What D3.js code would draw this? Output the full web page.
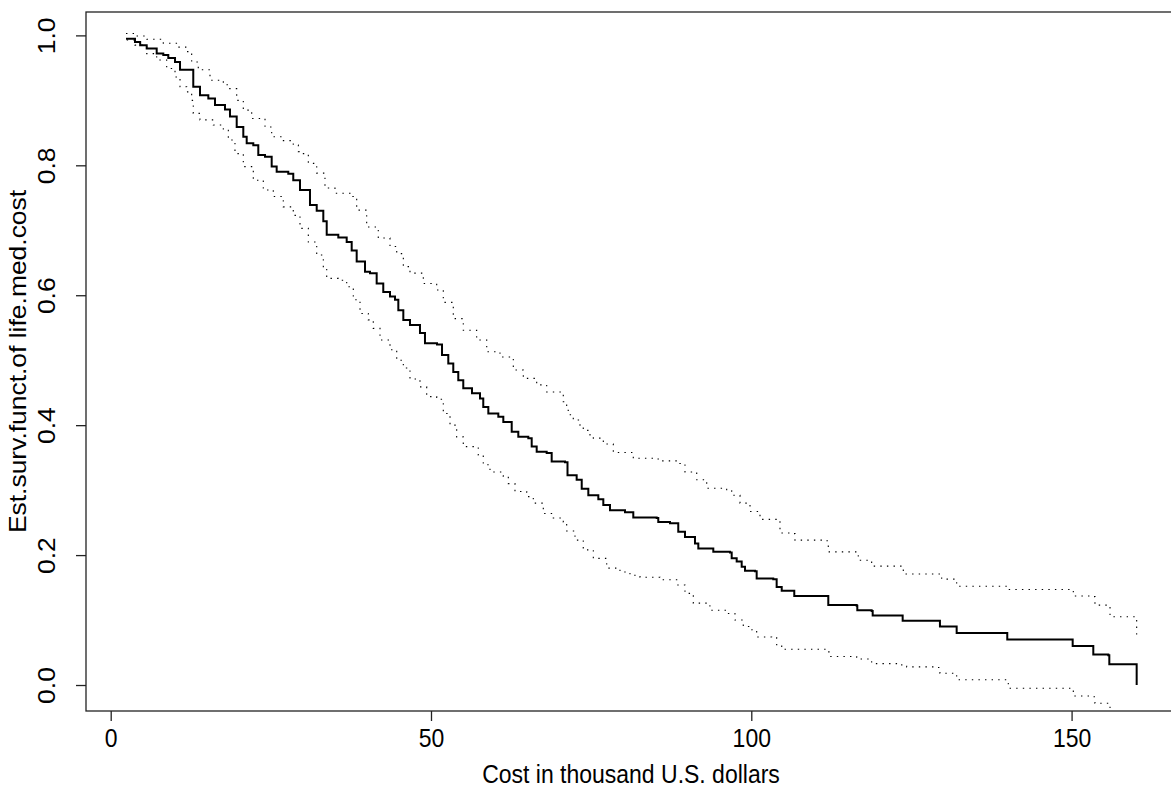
<!DOCTYPE html>
<html>
<head>
<meta charset="utf-8">
<script src="https://cdn.jsdelivr.net/npm/d3@7"></script>
<style>
  body { margin: 0; background: #fff; }
  text { font-family: "Liberation Sans", Arial, Helvetica, sans-serif; fill: #000; }
</style>
</head>
<body>
<div id="chart"></div>
<script>
// estimated survival curve (step points: time, surv after time)
const time = [2.39, 3.79, 4.60, 5.62, 7.18, 8.21, 8.99, 10.04, 10.82, 11.96, 12.89, 13.94, 15.24, 16.28, 17.84, 18.62, 19.67,
  20.70, 21.23, 22.26, 23.04, 24.09, 25.13, 25.91, 27.72, 28.50, 29.55, 31.11, 32.16, 33.19, 33.72, 35.53, 36.84,
  37.62, 38.40, 39.70, 40.48, 41.52, 42.55, 43.60, 44.38, 44.90, 45.68, 46.72, 48.28, 49.06, 50.94, 51.72, 52.70,
  53.48, 54.26, 55.04, 56.40, 57.65, 58.16, 58.95, 60.51, 61.29, 62.60, 63.63, 65.19, 65.72, 66.50, 68.06, 68.84,
  70.92, 71.31, 72.74, 73.53, 74.56, 76.12, 76.90, 77.94, 80.29, 81.58, 85.23, 85.48, 87.31, 88.60, 89.65, 91.21,
  91.73, 94.07, 96.67, 96.94, 97.72, 98.50, 99.02, 100.58, 100.84, 103.43, 103.96, 104.75, 106.56, 106.71, 111.77,
  112.02, 116.45, 116.55, 118.79, 118.95, 123.48, 123.63, 129.35, 129.45, 131.91, 132.06, 139.87, 139.96, 150.02,
  150.17, 153.29, 153.39, 155.73, 155.89, 160.16, 160.16];
const surv = [0.995, 0.990, 0.985, 0.980, 0.972, 0.970, 0.965, 0.959, 0.947, 0.947, 0.921, 0.908, 0.903, 0.893, 0.886, 0.875, 0.859,
  0.844, 0.834, 0.831, 0.816, 0.813, 0.798, 0.790, 0.787, 0.777, 0.762, 0.739, 0.730, 0.714, 0.693, 0.689, 0.682,
  0.669, 0.652, 0.636, 0.634, 0.618, 0.605, 0.598, 0.593, 0.577, 0.562, 0.554, 0.542, 0.526, 0.524, 0.508, 0.495,
  0.482, 0.469, 0.457, 0.449, 0.441, 0.428, 0.418, 0.413, 0.405, 0.390, 0.382, 0.380, 0.367, 0.359, 0.357, 0.344,
  0.343, 0.323, 0.316, 0.302, 0.292, 0.286, 0.277, 0.269, 0.266, 0.258, 0.257, 0.251, 0.249, 0.236, 0.228, 0.218,
  0.210, 0.205, 0.204, 0.195, 0.190, 0.182, 0.176, 0.175, 0.164, 0.163, 0.151, 0.145, 0.145, 0.137, 0.137,
  0.123, 0.122, 0.115, 0.114, 0.107, 0.107, 0.099, 0.099, 0.090, 0.090, 0.080, 0.080, 0.070, 0.070,
  0.060, 0.060, 0.047, 0.046, 0.032, 0.031, 0.0];

// upper confidence band
const upperTime = [2.39, 3.79, 5.62, 8.21, 10.55, 11.86, 12.64, 13.67, 15.50, 17.58, 18.36, 19.67, 20.70, 22.01, 24.09,
  25.13, 26.69, 28.50, 29.29, 29.55, 30.85, 32.16, 33.45, 35.01, 37.35, 38.40, 39.96, 41.77, 43.60, 44.65, 45.68,
  46.72, 48.80, 50.89, 51.92, 53.48, 55.04, 57.13, 58.70, 60.77, 62.85, 64.41, 66.50, 68.06, 70.65, 71.18, 71.43,
  72.21, 73.26, 73.77, 74.82, 75.34, 76.90, 78.46, 81.58, 85.23, 86.01, 88.60, 89.65, 91.48, 93.04, 96.16, 96.94,
  98.24, 99.80, 101.36, 103.70, 104.48, 106.56, 106.82, 111.51, 112.02, 116.45, 116.70, 118.79, 123.48, 123.73,
  129.45, 129.72, 131.80, 132.06, 139.87, 139.96, 149.75, 150.27, 153.14, 153.65, 155.73, 156.00, 160.16, 160.16];
const upperSurv = [1.003, 0.999, 0.994, 0.988, 0.982, 0.975, 0.959, 0.947, 0.931, 0.924, 0.918, 0.900, 0.885, 0.872, 0.859,
  0.844, 0.838, 0.831, 0.821, 0.818, 0.803, 0.788, 0.765, 0.757, 0.752, 0.731, 0.705, 0.688, 0.675, 0.664, 0.644,
  0.634, 0.618, 0.608, 0.589, 0.564, 0.546, 0.531, 0.513, 0.505, 0.485, 0.472, 0.462, 0.451, 0.436, 0.423, 0.416,
  0.408, 0.400, 0.392, 0.385, 0.380, 0.371, 0.358, 0.349, 0.348, 0.345, 0.341, 0.328, 0.316, 0.303, 0.299, 0.292,
  0.280, 0.267, 0.255, 0.255, 0.234, 0.233, 0.223, 0.222, 0.205, 0.204, 0.192, 0.183, 0.182, 0.171,
  0.169, 0.163, 0.162, 0.152, 0.152, 0.147, 0.146, 0.137, 0.136, 0.123, 0.122, 0.105, 0.104, 0.072];

// lower confidence band
const lowerTime = [2.50, 3.79, 5.62, 7.18, 8.74, 10.04, 10.82, 11.86, 12.64, 12.89, 13.94, 16.02, 17.58, 18.36, 19.40,
  20.70, 22.26, 23.82, 25.38, 26.94, 28.50, 29.55, 30.85, 32.16, 33.19, 33.72, 35.53, 36.84, 37.87, 38.92, 40.21,
  40.99, 42.04, 43.60, 44.65, 45.68, 46.72, 48.28, 49.33, 50.89, 51.92, 52.97, 54.01, 55.04, 57.38, 58.16, 59.21,
  61.29, 62.07, 63.11, 64.94, 65.97, 67.53, 69.09, 70.65, 71.18, 72.48, 73.77, 75.34, 77.43, 79.50, 81.06, 82.63,
  85.75, 88.36, 89.65, 90.95, 93.54, 96.16, 97.45, 98.75, 100.06, 100.84, 103.18, 103.96, 104.75, 111.77, 112.28,
  116.45, 118.79, 123.48, 124.26, 128.68, 129.45, 131.80, 132.06, 139.87, 140.12, 150.02, 150.27, 153.14, 153.65,
  155.73, 156.00];
const lowerSurv = [0.993, 0.985, 0.972, 0.962, 0.949, 0.936, 0.921, 0.913, 0.900, 0.880, 0.870, 0.862, 0.854, 0.839, 0.818,
  0.798, 0.777, 0.762, 0.752, 0.736, 0.723, 0.703, 0.682, 0.662, 0.641, 0.626, 0.623, 0.613, 0.593, 0.572, 0.562,
  0.549, 0.531, 0.516, 0.500, 0.488, 0.471, 0.459, 0.444, 0.440, 0.418, 0.400, 0.382, 0.367, 0.354, 0.339, 0.328,
  0.321, 0.310, 0.298, 0.290, 0.280, 0.264, 0.257, 0.251, 0.237, 0.223, 0.208, 0.195, 0.180, 0.174, 0.169, 0.166,
  0.162, 0.154, 0.141, 0.126, 0.115, 0.110, 0.100, 0.090, 0.085, 0.074, 0.073, 0.062, 0.055, 0.051, 0.044,
  0.040, 0.033, 0.031, 0.028, 0.027, 0.018, 0.016, 0.008, 0.008, -0.005, -0.006, -0.017, -0.018, -0.028,
  -0.033, -0.060];

const xTicks = [0, 50, 100, 150];
const yTicks = [0.0, 0.2, 0.4, 0.6, 0.8, 1.0];
const xTitle = "Cost in thousand U.S. dollars";
const yTitle = "Est.surv.funct.of life.med.cost";

const W = 1171, H = 787;
const plot = { left: 86, top: 12, right: 1176, bottom: 711 };
const fontSize = 23;
const stretch = 1.15; // text in the reference is drawn taller than wide

const svg = d3.select("#chart").append("svg")
  .attr("width", W)
  .attr("height", H);

const x = d3.scaleLinear().domain([-3.856, 166.3]).range([plot.left, plot.right]);
const y = d3.scaleLinear().domain([-0.04, 1.036]).range([plot.bottom, plot.top]);

svg.append("clipPath").attr("id", "clip")
  .append("rect")
  .attr("x", plot.left).attr("y", plot.top)
  .attr("width", plot.right - plot.left).attr("height", plot.bottom - plot.top);

const step = d3.line()
  .x(d => x(d[0]))
  .y(d => y(d[1]))
  .curve(d3.curveStepAfter);

const g = svg.append("g").attr("clip-path", "url(#clip)");

// dotted bands
[[upperTime, upperSurv], [lowerTime, lowerSurv]].forEach(([t, s]) => {
  g.append("path")
    .datum(d3.zip(t, s))
    .attr("d", step)
    .attr("fill", "none")
    .attr("stroke", "#000")
    .attr("stroke-width", 1.1)
    .attr("stroke-dasharray", "1.4 5.2");
});

// main curve
g.append("path")
  .datum(d3.zip(time, surv))
  .attr("d", step)
  .attr("fill", "none")
  .attr("stroke", "#000")
  .attr("stroke-width", 2);

// box
svg.append("rect")
  .attr("x", plot.left).attr("y", plot.top)
  .attr("width", plot.right - plot.left).attr("height", plot.bottom - plot.top)
  .attr("fill", "none")
  .attr("stroke", "#222")
  .attr("stroke-width", 1.3);

// x axis
const xAxis = svg.append("g")
  .attr("transform", `translate(0,${plot.bottom})`)
  .call(d3.axisBottom(x).tickValues(xTicks).tickSize(10).tickFormat(d3.format("d")));
xAxis.select(".domain").remove();
xAxis.selectAll("line").attr("stroke", "#222").attr("stroke-width", 1.3);
xAxis.selectAll("text")
  .attr("y", null).attr("dy", null)
  .attr("transform", `translate(0,36) scale(1,${stretch})`)
  .style("font-size", fontSize + "px")
  .attr("fill", "#000");

// y axis, labels parallel to axis
const yAxis = svg.append("g")
  .attr("transform", `translate(${plot.left},0)`)
  .call(d3.axisLeft(y).tickValues(yTicks).tickSize(10).tickFormat(d3.format(".1f")));
yAxis.select(".domain").remove();
yAxis.selectAll("line").attr("stroke", "#222").attr("stroke-width", 1.3);
yAxis.selectAll("text")
  .attr("x", null).attr("dy", null)
  .attr("text-anchor", "middle")
  .attr("transform", `translate(-31,0) rotate(-90) scale(${stretch},1)`)
  .style("font-size", fontSize + "px")
  .attr("fill", "#000");

svg.append("text")
  .attr("transform", `translate(${(plot.left + plot.right) / 2},783) scale(1,${stretch})`)
  .attr("text-anchor", "middle")
  .style("font-size", fontSize + "px")
  .text(xTitle);

svg.append("text")
  .attr("transform", `translate(26,${(plot.top + plot.bottom) / 2}) rotate(-90) scale(${stretch},1)`)
  .attr("text-anchor", "middle")
  .style("font-size", fontSize + "px")
  .text(yTitle);
</script>
</body>
</html>
